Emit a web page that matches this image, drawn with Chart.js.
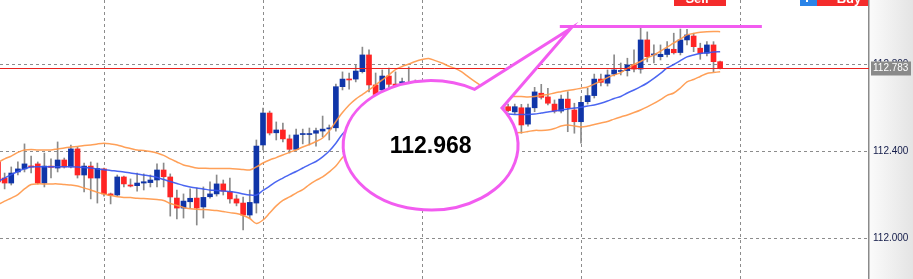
<!DOCTYPE html>
<html>
<head>
<meta charset="utf-8">
<script src="https://cdn.jsdelivr.net/npm/chart.js@4.4.0/dist/chart.umd.min.js"></script>
<style>
  html, body { margin: 0; padding: 0; background: #fff; }
  #caixa { width: 913px; height: 279px; }
</style>
</head>
<body>
<div id="caixa"><canvas id="meu-grafico" width="913" height="279"></canvas></div>
<script>
  // candles, one value per bar
  var opens = [112.352,112.278,112.255,112.306,112.320,112.333,112.343,112.255,112.333,112.324,
    112.361,112.329,112.412,112.292,112.333,112.278,112.320,112.205,112.200,112.283,
    112.246,112.243,112.255,112.257,112.269,112.315,112.283,112.186,112.140,112.169,
    112.186,112.145,112.192,112.205,112.251,112.215,112.182,112.163,112.108,112.163,
    112.430,112.577,112.486,112.499,112.458,112.410,112.478,112.478,112.484,112.494,
    112.504,112.509,112.698,112.733,112.733,112.767,112.844,112.706,112.683,112.747,
    112.710,112.714,112.701,112.710,112.674,112.697,112.664,112.632,112.660,112.628,
    112.600,112.623,112.586,112.614,112.591,112.609,112.595,112.606,112.582,112.601,
    112.526,112.601,112.668,112.651,112.618,112.586,112.641,112.591,112.537,112.629,
    112.657,112.733,112.714,112.756,112.768,112.772,112.798,112.779,112.913,112.844,
    112.836,112.846,112.870,112.855,112.913,112.931,112.875,112.852,112.890,112.813];
  var highs = [112.379,112.301,112.329,112.352,112.435,112.379,112.352,112.393,112.366,112.444,
    112.370,112.430,112.421,112.347,112.352,112.347,112.324,112.209,112.292,112.287,
    112.274,112.301,112.297,112.292,112.343,112.347,112.297,112.223,112.205,112.228,
    112.232,112.237,112.260,112.292,112.269,112.278,112.200,112.191,112.223,112.453,
    112.600,112.586,112.536,112.531,112.476,112.503,112.503,112.508,112.508,112.563,
    112.522,112.710,112.766,112.761,112.798,112.880,112.867,112.761,112.775,112.784,
    112.766,112.738,112.789,112.729,112.715,112.710,112.683,112.683,112.674,112.646,
    112.637,112.637,112.628,112.628,112.623,112.623,112.618,112.618,112.618,112.617,
    112.618,112.695,112.709,112.691,112.637,112.660,112.675,112.622,112.652,112.691,
    112.756,112.756,112.775,112.844,112.807,112.829,112.867,112.968,112.950,112.890,
    112.890,112.905,112.944,112.963,112.962,112.944,112.898,112.905,112.905,112.816];
  var lows = [112.241,112.228,112.246,112.292,112.306,112.301,112.251,112.237,112.278,112.306,
    112.324,112.324,112.278,112.214,112.182,112.163,112.195,112.159,112.195,112.237,
    112.237,112.218,112.223,112.237,112.237,112.237,112.103,112.090,112.094,112.140,
    112.062,112.094,112.186,112.195,112.200,112.163,112.150,112.039,112.094,112.117,
    112.407,112.476,112.453,112.444,112.393,112.407,112.435,112.430,112.425,112.467,
    112.453,112.494,112.683,112.687,112.720,112.761,112.674,112.651,112.660,112.692,
    112.674,112.683,112.674,112.660,112.655,112.646,112.618,112.618,112.609,112.582,
    112.582,112.572,112.568,112.577,112.572,112.582,112.582,112.582,112.571,112.484,
    112.517,112.583,112.641,112.614,112.577,112.577,112.491,112.484,112.438,112.618,
    112.646,112.701,112.701,112.747,112.752,112.747,112.766,112.760,112.812,112.807,
    112.821,112.835,112.848,112.844,112.890,112.859,112.824,112.839,112.767,112.780];
  var closes = [112.260,112.255,112.301,112.320,112.343,112.329,112.255,112.333,112.327,112.361,
    112.329,112.412,112.292,112.333,112.278,112.322,112.205,112.198,112.283,112.251,
    112.241,112.255,112.261,112.269,112.315,112.284,112.191,112.140,112.172,112.185,
    112.140,112.189,112.205,112.251,112.218,112.182,112.163,112.108,112.166,112.425,
    112.577,112.485,112.499,112.458,112.410,112.476,112.481,112.481,112.496,112.503,
    112.508,112.698,112.733,112.729,112.770,112.844,112.706,112.662,112.747,112.709,
    112.692,112.721,112.710,112.683,112.701,112.664,112.637,112.660,112.628,112.600,
    112.623,112.591,112.614,112.595,112.609,112.600,112.605,112.588,112.606,112.522,
    112.601,112.674,112.649,112.622,112.586,112.641,112.601,112.537,112.626,112.657,
    112.733,112.718,112.752,112.775,112.771,112.798,112.779,112.913,112.836,112.848,
    112.847,112.871,112.854,112.913,112.936,112.882,112.852,112.890,112.813,112.783];

  // bollinger bands
  var bandUpper = [112.350,112.366,112.379,112.396,112.407,112.409,112.407,112.407,112.407,112.412,
    112.416,112.421,112.423,112.428,112.430,112.435,112.438,112.435,112.430,112.421,
    112.414,112.407,112.405,112.400,112.393,112.382,112.366,112.352,112.338,112.331,
    112.324,112.323,112.322,112.322,112.322,112.322,112.320,112.317,112.315,112.329,
    112.347,112.361,112.372,112.384,112.396,112.407,112.421,112.432,112.446,112.462,
    112.494,112.538,112.579,112.614,112.641,112.662,112.683,112.706,112.729,112.752,
    112.777,112.791,112.802,112.814,112.823,112.828,112.818,112.807,112.793,112.782,
    112.766,112.743,112.721,112.701,112.683,112.669,112.658,112.653,112.653,112.653,
    112.651,112.653,112.658,112.662,112.669,112.675,112.681,112.685,112.691,112.697,
    112.710,112.724,112.740,112.752,112.763,112.782,112.800,112.814,112.830,112.844,
    112.862,112.880,112.899,112.917,112.936,112.943,112.948,112.951,112.952,112.951];
  var bandMiddle = [112.262,112.278,112.294,112.308,112.320,112.329,112.330,112.330,112.330,112.330,
    112.330,112.330,112.329,112.327,112.324,112.320,112.316,112.313,112.309,112.306,
    112.301,112.297,112.292,112.287,112.281,112.271,112.262,112.253,112.244,112.237,
    112.232,112.228,112.223,112.221,112.218,112.216,112.212,112.205,112.200,112.200,
    112.221,112.241,112.262,112.278,112.294,112.308,112.324,112.340,112.354,112.375,
    112.402,112.438,112.481,112.508,112.526,112.545,112.559,112.570,112.579,112.586,
    112.591,112.593,112.595,112.595,112.595,112.593,112.591,112.589,112.586,112.584,
    112.582,112.579,112.577,112.575,112.575,112.575,112.575,112.572,112.570,112.570,
    112.570,112.572,112.577,112.582,112.586,112.591,112.595,112.600,112.603,112.609,
    112.614,112.622,112.632,112.644,112.653,112.669,112.683,112.698,112.715,112.736,
    112.759,112.784,112.800,112.818,112.835,112.844,112.851,112.854,112.858,112.859];
  var bandLower = [112.156,112.172,112.186,112.202,112.228,112.248,112.251,112.251,112.251,112.251,
    112.248,112.246,112.241,112.232,112.223,112.212,112.205,112.198,112.192,112.189,
    112.188,112.185,112.184,112.182,112.179,112.175,112.161,112.152,112.143,112.137,
    112.134,112.133,112.131,112.129,112.124,112.119,112.115,112.106,112.092,112.069,
    112.085,112.117,112.150,112.175,112.191,112.209,112.225,112.248,112.267,112.283,
    112.306,112.333,112.372,112.398,112.407,112.416,112.421,112.425,112.430,112.432,
    112.435,112.437,112.439,112.441,112.444,112.446,112.451,112.453,112.458,112.460,
    112.464,112.467,112.471,112.476,112.478,112.481,112.483,112.485,112.486,112.487,
    112.492,112.497,112.497,112.499,112.506,112.517,112.522,112.517,112.513,112.517,
    112.524,112.531,112.538,112.549,112.559,112.568,112.579,112.591,112.605,112.621,
    112.639,112.658,112.669,112.692,112.720,112.731,112.745,112.759,112.763,112.767];

  var priceTicks = [112.0, 112.4, 112.8];
  var timeGrid = [16, 40, 64, 88, 112];
  var lastPrice = 112.783;
  var calloutText = '112.968';

  // visible window and callout placement, in bar index / price units
  var viewStart = 0.302, viewEnd = 131.47;
  var priceMin = 111.8138, priceMax = 113.0966;
  var bubble = { x: 65.3, y: 112.4285, rx: 13.2, ry: 0.2975, tipX: 86.45, tipY: 112.9655,
    a1: -35.3, a2: -59.8, lineFrom: 84.8, lineTo: 115.3, lineY: 112.975 };

  var UP = '#1035a8', DOWN = '#ff2424', WICK = '#8a8a8a', PINK = '#f25cf0';

  var bodies = [], wicks = [], upper = [], middle = [], lower = [], bodyColors = [];
  for (var i = 0; i < opens.length; i++) {
    bodies.push({ x: i, y: [opens[i], closes[i]] });
    wicks.push({ x: i, y: [lows[i], highs[i]] });
    bodyColors.push(closes[i] >= opens[i] ? UP : DOWN);
    upper.push({ x: i, y: bandUpper[i] });
    middle.push({ x: i, y: bandMiddle[i] });
    lower.push({ x: i, y: bandLower[i] });
  }

  var extras = {
    id: 'extras',
    beforeDraw: function (chart) {
      var ctx = chart.ctx, a = chart.chartArea;
      ctx.save();
      ctx.fillStyle = '#fff';
      ctx.fillRect(0, 0, chart.width, chart.height);
      var g = ctx.createLinearGradient(a.right, 0, chart.width, 0);
      g.addColorStop(0, '#fbfbfb');
      g.addColorStop(1, '#e4e4e4');
      ctx.fillStyle = g;
      ctx.fillRect(a.right, 0, chart.width - a.right, chart.height);
      ctx.restore();
    },
    afterDatasetsDraw: function (chart) {
      var ctx = chart.ctx, a = chart.chartArea;
      var xs = chart.scales.x, ys = chart.scales.y;
      ctx.save();

      // current price line
      var py = Math.round(ys.getPixelForValue(lastPrice)) + 0.5;
      ctx.strokeStyle = '#e8231f';
      ctx.lineWidth = 1;
      ctx.beginPath();
      ctx.moveTo(a.left, py);
      ctx.lineTo(a.right, py);
      ctx.stroke();

      // callout bubble
      var cx = xs.getPixelForValue(bubble.x), cy = ys.getPixelForValue(bubble.y);
      var rx = xs.getPixelForValue(bubble.x + bubble.rx) - cx;
      var ry = cy - ys.getPixelForValue(bubble.y + bubble.ry);
      var tx = xs.getPixelForValue(bubble.tipX), ty = ys.getPixelForValue(bubble.tipY);
      var a1 = bubble.a1 * Math.PI / 180, a2 = bubble.a2 * Math.PI / 180 + 2 * Math.PI;
      ctx.beginPath();
      ctx.ellipse(cx, cy, rx, ry, 0, a1, a2, false);
      ctx.lineTo(tx, ty);
      ctx.closePath();
      ctx.fillStyle = '#fff';
      ctx.fill();
      ctx.strokeStyle = PINK;
      ctx.lineWidth = 3;
      ctx.lineJoin = 'miter';
      ctx.stroke();

      ctx.fillStyle = '#000';
      ctx.font = 'bold 23px "Liberation Sans", Arial, sans-serif';
      ctx.textAlign = 'center';
      ctx.textBaseline = 'middle';
      ctx.fillText(calloutText, cx, cy + 1);

      // line at the high
      var ly = ys.getPixelForValue(bubble.lineY);
      ctx.beginPath();
      ctx.moveTo(xs.getPixelForValue(bubble.lineFrom), ly);
      ctx.lineTo(xs.getPixelForValue(bubble.lineTo), ly);
      ctx.lineWidth = 3;
      ctx.strokeStyle = PINK;
      ctx.stroke();

      // price tag on the axis
      ctx.fillStyle = '#8a8a8a';
      ctx.fillRect(a.right + 2, py - 7, 40, 14);
      ctx.fillStyle = '#fff';
      ctx.font = '10px "Liberation Sans", Arial, sans-serif';
      ctx.textAlign = 'left';
      ctx.textBaseline = 'middle';
      ctx.fillText(lastPrice.toFixed(3), a.right + 4, py);

      // sell / buy buttons cut off at the top
      ctx.fillStyle = '#f42b2b';
      ctx.fillRect(674, 0, 52, 6);
      ctx.fillRect(817, 0, 51, 6);
      ctx.fillStyle = '#2a84e8';
      ctx.fillRect(800, 0, 17, 6);
      ctx.fillStyle = '#fff';
      ctx.font = 'bold 13px "Liberation Sans", Arial, sans-serif';
      ctx.textBaseline = 'alphabetic';
      ctx.textAlign = 'center';
      ctx.fillText('Sell', 697, 2.5);
      ctx.fillText('Buy', 849, 2.5);
      ctx.fillRect(806, 0, 2, 2);
      ctx.restore();
    }
  };

  function criarGrafico() {
    var ctx = document.getElementById('meu-grafico').getContext('2d');
    new Chart(ctx, {
      type: 'bar',
      data: {
        datasets: [
          { type: 'line', data: upper, borderColor: 'rgba(255,150,70,0.9)', borderWidth: 1.5,
            pointRadius: 0, tension: 0.3, order: 0 },
          { type: 'line', data: middle, borderColor: 'rgba(55,85,240,0.9)', borderWidth: 1.5,
            pointRadius: 0, tension: 0.3, order: 0 },
          { type: 'line', data: lower, borderColor: 'rgba(255,150,70,0.9)', borderWidth: 1.5,
            pointRadius: 0, tension: 0.3, order: 0 },
          { data: bodies, backgroundColor: bodyColors, barThickness: 5, minBarLength: 1,
            grouped: false, order: 1 },
          { data: wicks, backgroundColor: WICK, barThickness: 1, grouped: false, order: 2 }
        ]
      },
      options: {
        responsive: false,
        animation: false,
        events: [],
        layout: { padding: 0 },
        plugins: { legend: { display: false }, tooltip: { enabled: false } },
        scales: {
          x: {
            type: 'linear',
            min: viewStart,
            max: viewEnd,
            offset: false,
            afterBuildTicks: function (s) { s.ticks = timeGrid.map(function (v) { return { value: v }; }); },
            afterFit: function (s) { s.height = 0; s.paddingLeft = 0; s.paddingRight = 0; },
            ticks: { display: false },
            grid: { color: '#8c8c8c', drawTicks: false, offset: false },
            border: { display: false, dash: [3, 3] }
          },
          y: {
            position: 'right',
            min: priceMin,
            max: priceMax,
            afterBuildTicks: function (s) { s.ticks = priceTicks.map(function (v) { return { value: v }; }); },
            afterFit: function (s) { s.width = 44; s.paddingTop = 0; s.paddingBottom = 0; },
            ticks: {
              padding: 4,
              color: '#141c4a',
              font: { family: '"Liberation Sans", Arial, sans-serif', size: 10 },
              callback: function (v) { return Number(v).toFixed(3); }
            },
            grid: { color: '#8c8c8c', drawTicks: false },
            border: { display: true, color: '#8a8a8a', width: 1.5, dash: [3, 3] }
          }
        }
      },
      plugins: [extras]
    });
  }

  criarGrafico();
</script>
</body>
</html>
